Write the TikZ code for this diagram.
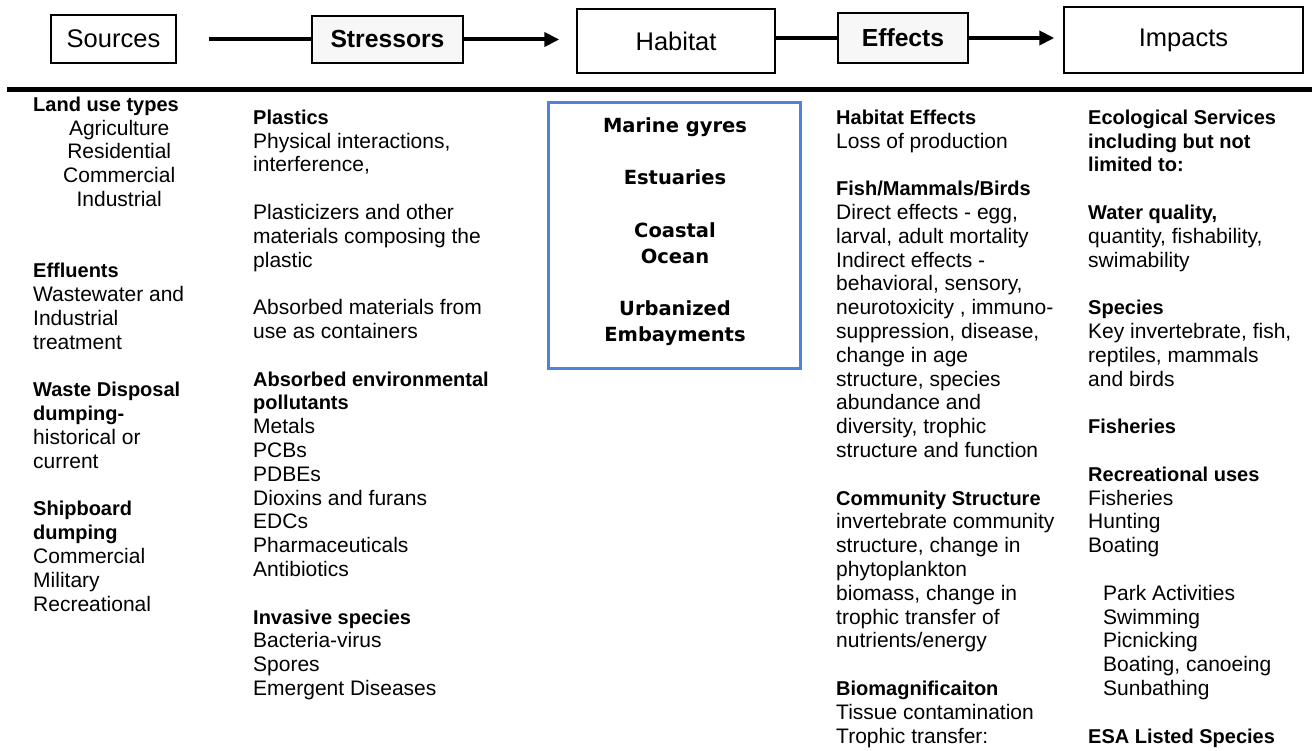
\documentclass[tikz,border=0pt]{standalone}
\usepackage{fontspec}
\setmainfont{Liberation Sans}
\newfontfamily\habfont{DejaVu Sans}
\usetikzlibrary{arrows.meta}
\definecolor{habblue}{RGB}{80,130,215}
\newcommand\hdg[1]{{\fontsize{20}{23.8}\selectfont\bfseries #1}}
\newcommand\ctr[1]{\makebox[172pt]{#1}}
\begin{document}
\begin{tikzpicture}[x=1pt,y=-1pt,
  topbox/.style={draw=black, line width=1.4pt, inner sep=0pt, font=\fontsize{25.5}{30}\selectfont},
  topbold/.style={topbox, fill=black!3, font=\fontsize{24.7}{30}\selectfont\bfseries},
  conn/.style={line width=4pt},
  arr/.style={conn, -{Triangle[length=15pt,width=14pt]}},
  col/.style={anchor=north west, inner sep=0pt, align=left, font=\fontsize{21}{23.8}\selectfont},
  habframe/.style={draw=habblue, line width=3pt, inner sep=0pt},
  habtext/.style={anchor=north, inner sep=0pt, align=center, font=\habfont\bfseries\fontsize{19.5}{26.2}\selectfont}
]
\useasboundingbox[fill=white] (0,0) rectangle (1312,751);

% top row
\node[topbox, minimum width=125pt, minimum height=48pt] (src) at (113.5,39) {Sources};
\node[topbold, minimum width=151pt, minimum height=47pt] (str) at (387.5,39.5) {Stressors};
\node[topbox, minimum width=198pt, minimum height=64pt] (hab) at (676,41) {Habitat};
\node[topbold, minimum width=130pt, minimum height=50pt] (eff) at (903,38) {Effects};
\node[topbox, minimum width=239pt, minimum height=66pt] (imp) at (1183.5,40) {Impacts};

\draw[conn, shorten <=32pt] (src.east) -- (src.east -| str.west);
\draw[arr, shorten >=17pt] (str.east) -- (str.east -| hab.west);
\draw[conn] (eff.west -| hab.east) -- (eff.west);
\draw[arr, shorten >=9pt] (eff.east) -- (eff.east -| imp.west);

% thick rule
\coordinate (ruleL) at (7,90);
\coordinate (ruleR) at (1312,90);
\draw[line width=5pt] (ruleL) -- (ruleR);

% column 1: sources
\node[col] (c1) at (33,95) {\rule{0pt}{16pt}\hdg{Land use types}\\
\ctr{Agriculture}\\
\ctr{Residential}\\
\ctr{Commercial}\\
\ctr{Industrial}\\[47.6pt]
\hdg{Effluents}\\
Wastewater and\\
Industrial\\
treatment\\[23.8pt]
\hdg{Waste Disposal}\\
\hdg{dumping-}\\
historical or\\
current\\[23.8pt]
\hdg{Shipboard}\\
\hdg{dumping}\\
Commercial\\
Military\\
Recreational};

% column 2: stressors
\node[col] (c2) at (253,108) {\rule{0pt}{16pt}\hdg{Plastics}\\
Physical interactions,\\
interference,\\[23.8pt]
Plasticizers and other\\
materials composing the\\
plastic\\[23.8pt]
Absorbed materials from\\
use as containers\\[23.8pt]
\hdg{Absorbed environmental}\\
\hdg{pollutants}\\
Metals\\
PCBs\\
PDBEs\\
Dioxins and furans\\
EDCs\\
Pharmaceuticals\\
Antibiotics\\[23.8pt]
\hdg{Invasive species}\\
Bacteria-virus\\
Spores\\
Emergent Diseases};

% habitat box
\node[habframe, minimum width=252pt, minimum height=265pt] (hbx) at (674,235.5) {};
\node[habtext] (hbt) at (675,117) {\rule{0pt}{15pt}Marine gyres\\[26.2pt]
Estuaries\\[26.2pt]
Coastal\\
Ocean\\[26.2pt]
Urbanized\\
Embayments};

% column 4: effects
\node[col] (c4) at (836,108) {\rule{0pt}{16pt}\hdg{Habitat Effects}\\
Loss of production\\[23.8pt]
\hdg{Fish/Mammals/Birds}\\
Direct effects - egg,\\
larval, adult mortality\\
Indirect effects -\\
behavioral, sensory,\\
neurotoxicity , immuno-\\
suppression, disease,\\
change in age\\
structure, species\\
abundance and\\
diversity, trophic\\
structure and function\\[23.8pt]
\hdg{Community Structure}\\
invertebrate community\\
structure, change in\\
phytoplankton\\
biomass, change in\\
trophic transfer of\\
nutrients/energy\\[23.8pt]
\hdg{Biomagnificaiton}\\
Tissue contamination\\
Trophic transfer:};

% column 5: impacts
\node[col] (c5) at (1088,108) {\rule{0pt}{16pt}\hdg{Ecological Services}\\
\hdg{including but not}\\
\hdg{limited to:}\\[23.8pt]
\hdg{Water quality,}\\
quantity, fishability,\\
swimability\\[23.8pt]
\hdg{Species}\\
Key invertebrate, fish,\\
reptiles, mammals\\
and birds\\[23.8pt]
\hdg{Fisheries}\\[23.8pt]
\hdg{Recreational uses}\\
Fisheries\\
Hunting\\
Boating\\[23.8pt]
\hspace*{15pt}Park Activities\\
\hspace*{15pt}Swimming\\
\hspace*{15pt}Picnicking\\
\hspace*{15pt}Boating, canoeing\\
\hspace*{15pt}Sunbathing\\[23.8pt]
\hdg{ESA Listed Species}};
\end{tikzpicture}
\end{document}
